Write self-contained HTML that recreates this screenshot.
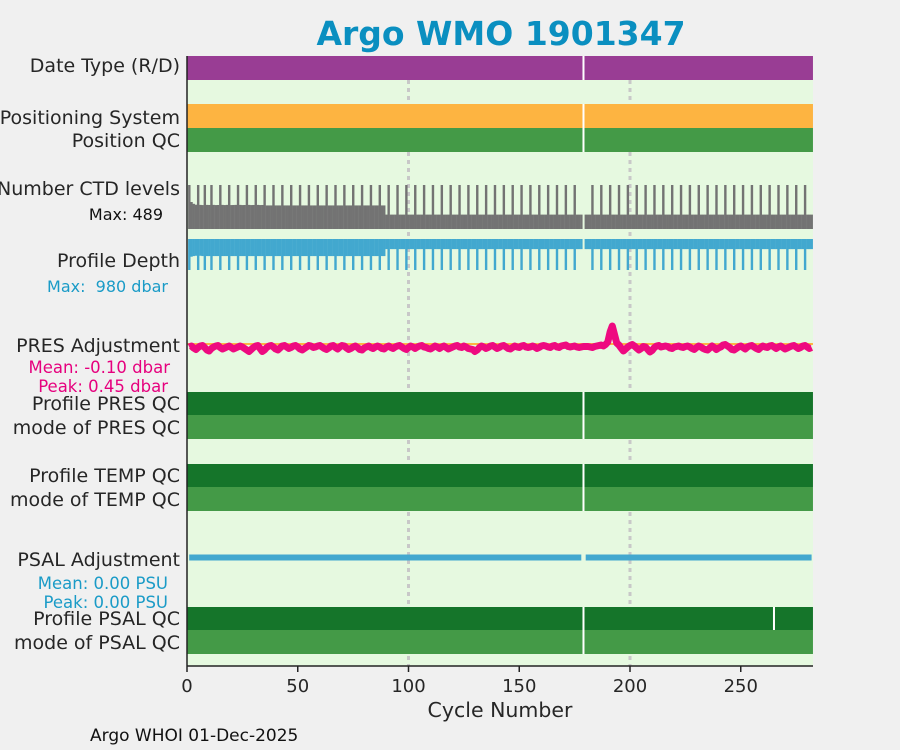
<!DOCTYPE html>
<html><head><meta charset="utf-8">
<style>
html,body{margin:0;padding:0;background:#f0f0f0;}
svg{display:block;font-family:"DejaVu Sans","Liberation Sans",sans-serif;}
</style></head>
<body>
<svg id="chart" width="900" height="750" viewBox="0 0 900 750">
<rect x="0" y="0" width="900" height="750" fill="#f0f0f0"/>
<text x="501" y="45" text-anchor="middle" font-size="33" font-weight="bold" fill="#0a8fc0">Argo WMO 1901347</text>
<rect x="187" y="56" width="626" height="610" fill="#e6f9e0"/>
<g id="marks"></g>
<line x1="187" y1="56" x2="187" y2="666" stroke="#222" stroke-width="1.5"/>
<line x1="187" y1="666" x2="813" y2="666" stroke="#222" stroke-width="1.5"/>
<g font-size="19" fill="#262626" text-anchor="end">
<text x="180" y="72">Date Type (R/D)</text>
<text x="180" y="124">Positioning System</text>
<text x="180" y="147">Position QC</text>
<text x="180" y="195">Number CTD levels</text>
<text x="180" y="267">Profile Depth</text>
<text x="180" y="352">PRES Adjustment</text>
<text x="180" y="410">Profile PRES QC</text>
<text x="180" y="434">mode of PRES QC</text>
<text x="180" y="482">Profile TEMP QC</text>
<text x="180" y="506">mode of TEMP QC</text>
<text x="180" y="566">PSAL Adjustment</text>
<text x="180" y="625">Profile PSAL QC</text>
<text x="180" y="649">mode of PSAL QC</text>
</g>
<g text-anchor="end">
<text x="163" y="220" font-size="16" fill="#111">Max: 489</text>
<text x="168" y="292" font-size="16" fill="#1a9bc7">Max:&#160; 980 dbar</text>
<text x="170" y="373" font-size="16.5" fill="#e6007e">Mean: -0.10 dbar</text>
<text x="168" y="392" font-size="16.5" fill="#e6007e">Peak: 0.45 dbar</text>
<text x="168" y="589" font-size="16.5" fill="#1a9bc7">Mean: 0.00 PSU</text>
<text x="168" y="608" font-size="16.5" fill="#1a9bc7">Peak: 0.00 PSU</text>
</g>
<g id="xaxis" font-size="18" fill="#262626" text-anchor="middle"></g>
<text x="500" y="717" text-anchor="middle" font-size="20.5" fill="#262626">Cycle Number</text>
<text x="90" y="741" font-size="17" fill="#111">Argo WHOI 01-Dec-2025</text>
</svg>
<script>
const xTicks = [0, 50, 100, 150, 200, 250];
const gapCycles = [179];
const psalQcGapCycles = [179, 265];
const refCycles = [100, 200];
const ctdLevels = [
489,300,280,270,489,268,266,489,268,267,489,268,266,267,489,268,266,268,489,266,
267,268,489,268,266,267,489,268,266,267,489,268,266,267,489,262,262,262,489,262,
262,262,489,262,262,262,489,262,262,262,489,262,262,262,489,262,262,262,489,262,
262,262,489,262,262,262,489,262,262,262,489,262,262,262,489,262,262,262,489,262,
262,262,489,262,262,262,489,262,262,160,489,160,160,160,489,160,160,160,489,160,
160,160,489,160,160,160,489,160,160,160,489,160,160,160,489,160,160,160,489,160,
160,160,489,160,160,160,489,160,160,160,489,160,160,160,489,160,160,160,489,160,
160,160,489,160,160,160,489,160,160,160,489,160,160,160,489,160,160,160,489,160,
160,160,489,160,160,160,489,160,160,160,489,160,160,160,489,160,160,160,489,160,
160,160,489,160,160,160,489,160,160,160,489,160,160,160,489,160,160,160,489,160,
160,160,489,160,160,160,489,160,160,160,489,160,160,160,489,160,160,160,489,160,
160,160,489,160,160,160,489,160,160,160,489,160,160,160,489,160,160,160,489,160,
160,160,489,160,160,160,489,160,160,160,489,160,160,160,489,160,160,160,489,160,
160,160,489,160,160,160,489,160,160,160,489,160,160,160,489,160,160,160,489,160,
160,160];
const profileDepth = [
980,560,540,530,980,530,540,980,540,540,980,540,540,540,980,540,540,540,980,540,
540,540,980,540,540,540,980,540,540,540,980,540,540,540,980,540,540,540,980,540,
540,540,980,540,540,540,980,540,540,540,980,540,540,540,980,540,540,540,980,540,
540,540,980,540,540,540,980,540,540,540,980,540,540,540,980,540,540,540,980,540,
540,540,980,540,540,540,980,540,540,320,980,320,320,320,980,320,320,320,980,320,
320,320,980,320,320,320,980,320,320,320,980,320,320,320,980,320,320,320,980,320,
320,320,980,320,320,320,980,320,320,320,980,320,320,320,980,320,320,320,980,320,
320,320,980,320,320,320,980,320,320,320,980,320,320,320,980,320,320,320,980,320,
320,320,980,320,320,320,980,320,320,320,980,320,320,320,980,320,320,320,980,320,
320,320,980,320,320,320,980,320,320,320,980,320,320,320,980,320,320,320,980,320,
320,320,980,320,320,320,980,320,320,320,980,320,320,320,980,320,320,320,980,320,
320,320,980,320,320,320,980,320,320,320,980,320,320,320,980,320,320,320,980,320,
320,320,980,320,320,320,980,320,320,320,980,320,320,320,980,320,320,320,980,320,
320,320,980,320,320,320,980,320,320,320,980,320,320,320,980,320,320,320,980,320,
320,320];
const presAdjust = [
-0.10,-0.08,-0.12,-0.15,-0.11,-0.08,-0.07,-0.11,-0.16,-0.18,-0.13,-0.10,-0.08,-0.07,-0.11,-0.14,-0.12,-0.10,-0.08,-0.11,
-0.14,-0.12,-0.10,-0.08,-0.10,-0.13,-0.16,-0.19,-0.15,-0.11,-0.08,-0.07,-0.13,-0.19,-0.16,-0.11,-0.08,-0.07,-0.10,-0.14,
-0.16,-0.12,-0.08,-0.07,-0.10,-0.13,-0.11,-0.08,-0.07,-0.10,-0.14,-0.16,-0.13,-0.10,-0.07,-0.08,-0.11,-0.10,-0.08,-0.07,
-0.10,-0.13,-0.15,-0.12,-0.08,-0.07,-0.11,-0.14,-0.10,-0.07,-0.08,-0.12,-0.15,-0.13,-0.10,-0.08,-0.11,-0.15,-0.16,-0.12,
-0.10,-0.08,-0.11,-0.13,-0.10,-0.08,-0.10,-0.13,-0.14,-0.10,-0.08,-0.11,-0.13,-0.10,-0.08,-0.07,-0.10,-0.13,-0.15,-0.11,
-0.08,-0.10,-0.13,-0.10,-0.08,-0.07,-0.10,-0.11,-0.13,-0.14,-0.11,-0.08,-0.10,-0.13,-0.10,-0.08,-0.11,-0.14,-0.12,-0.10,
-0.08,-0.07,-0.10,-0.11,-0.08,-0.10,-0.13,-0.14,-0.15,-0.19,-0.16,-0.11,-0.08,-0.10,-0.13,-0.11,-0.08,-0.07,-0.10,-0.13,
-0.11,-0.08,-0.07,-0.10,-0.13,-0.14,-0.11,-0.08,-0.10,-0.11,-0.08,-0.07,-0.10,-0.11,-0.10,-0.08,-0.10,-0.13,-0.11,-0.08,
-0.07,-0.08,-0.10,-0.11,-0.08,-0.07,-0.10,-0.11,-0.08,-0.07,-0.06,-0.09,-0.10,-0.09,-0.08,-0.10,-0.11,-0.10,-0.09,-0.09,
-0.09,-0.10,-0.11,-0.09,-0.08,-0.07,-0.06,-0.08,-0.05,0.00,0.20,0.32,0.15,-0.02,-0.06,-0.12,-0.18,-0.14,-0.10,-0.07,
-0.05,-0.08,-0.12,-0.16,-0.13,-0.09,-0.10,-0.15,-0.20,-0.17,-0.11,-0.08,-0.07,-0.10,-0.09,-0.08,-0.09,-0.12,-0.13,-0.10,
-0.09,-0.08,-0.10,-0.11,-0.09,-0.08,-0.10,-0.13,-0.15,-0.11,-0.08,-0.10,-0.13,-0.15,-0.16,-0.12,-0.08,-0.11,-0.15,-0.12,
-0.10,-0.06,-0.05,-0.08,-0.11,-0.15,-0.16,-0.13,-0.10,-0.08,-0.11,-0.14,-0.10,-0.08,-0.07,-0.10,-0.13,-0.15,-0.11,-0.08,
-0.10,-0.11,-0.08,-0.07,-0.10,-0.13,-0.10,-0.08,-0.11,-0.14,-0.12,-0.10,-0.08,-0.07,-0.10,-0.13,-0.11,-0.08,-0.07,-0.10,
-0.13,-0.11];
const psalAdjust = [
0,0,0,0,0,0,0,0,0,0,0,0,0,0,0,0,0,0,0,0,0,0,0,0,0,0,0,0,0,0,0,0,0,0,0,0,0,0,0,0,
0,0,0,0,0,0,0,0,0,0,0,0,0,0,0,0,0,0,0,0,0,0,0,0,0,0,0,0,0,0,0,0,0,0,0,0,0,0,0,0,
0,0,0,0,0,0,0,0,0,0,0,0,0,0,0,0,0,0,0,0,0,0,0,0,0,0,0,0,0,0,0,0,0,0,0,0,0,0,0,0,
0,0,0,0,0,0,0,0,0,0,0,0,0,0,0,0,0,0,0,0,0,0,0,0,0,0,0,0,0,0,0,0,0,0,0,0,0,0,0,0,
0,0,0,0,0,0,0,0,0,0,0,0,0,0,0,0,0,0,0,0,0,0,0,0,0,0,0,0,0,0,0,0,0,0,0,0,0,0,0,0,
0,0,0,0,0,0,0,0,0,0,0,0,0,0,0,0,0,0,0,0,0,0,0,0,0,0,0,0,0,0,0,0,0,0,0,0,0,0,0,0,
0,0,0,0,0,0,0,0,0,0,0,0,0,0,0,0,0,0,0,0,0,0,0,0,0,0,0,0,0,0,0,0,0,0,0,0,0,0,0,0,
0,0];

const NS = "http://www.w3.org/2000/svg";
const X0 = 187, PXC = 2.215, XMAX = 282.6;
function xs(c){ return X0 + c * PXC; }
const marks = document.getElementById('marks');
function mk(tag, attrs, parent){
  const e = document.createElementNS(NS, tag);
  for (const k in attrs) e.setAttribute(k, attrs[k]);
  (parent || marks).appendChild(e);
  return e;
}
refCycles.forEach(c => {
  const l = mk('line', {x1: xs(c), y1: 56, x2: xs(c), y2: 666, stroke: '#c8c8c8', 'stroke-width': 3, 'stroke-dasharray': '4 4'});
  
  
});
function band(y, h, color, name, gaps){
  const r = mk('rect', {x: xs(0), y: y, width: xs(XMAX) - xs(0), height: h, fill: color});
  
  
  gaps.forEach(g => {
    const l = mk('rect', {x: xs(g) - 1, y: y, width: 2, height: h, fill: '#ffffff'});
    
    
  });
}
band(56, 24, '#993d94', 'date-type-band', gapCycles);
band(104, 24, '#fdb441', 'positioning-system-band', gapCycles);
band(128, 24, '#449a47', 'position-qc-band', gapCycles);
band(392, 23, '#15752a', 'profile-pres-qc-band', gapCycles);
band(415, 24, '#449a47', 'mode-pres-qc-band', gapCycles);
band(464, 23, '#15752a', 'profile-temp-qc-band', gapCycles);
band(487, 24, '#449a47', 'mode-temp-qc-band', gapCycles);
band(607, 23, '#15752a', 'profile-psal-qc-band', psalQcGapCycles);
band(630, 24, '#449a47', 'mode-psal-qc-band', gapCycles);

function yCtd(v){ return 229 - v / 489 * 44; }
ctdLevels.forEach((v, i) => {
  const c = i + 1;
  if (gapCycles.includes(c)) return;
  const r = mk('rect', {x: xs(c) - PXC/2, y: yCtd(v), width: PXC + 0.2, height: 229 - yCtd(v), fill: '#737373'});
  
  
});
function yDep(v){ return 239 + v / 980 * 31; }
profileDepth.forEach((v, i) => {
  const c = i + 1;
  if (gapCycles.includes(c)) return;
  const r = mk('rect', {x: xs(c) - PXC/2, y: 239, width: PXC + 0.2, height: yDep(v) - 239, fill: '#42a8cf'});
  
  
});
function yPres(v){ return 347 - (v + 0.1) * 50; }
const zl = mk('line', {x1: xs(0), y1: yPres(-0.1) - 3, x2: xs(XMAX), y2: yPres(-0.1) - 3, stroke: '#fdb441', 'stroke-width': 2});


let d = '';
presAdjust.forEach((v, i) => { d += (i ? 'L' : 'M') + xs(i + 1).toFixed(1) + ' ' + yPres(v).toFixed(1); });
const pl = mk('path', {d: d, fill: 'none', stroke: '#ee0a80', 'stroke-width': 7, 'stroke-linejoin': 'round'});


function yPsal(v){ return 557.5 - v * 1000; }
let d2 = '';
psalAdjust.forEach((v, i) => {
  const c = i + 1;
  if (gapCycles.includes(c)) { return; }
  const prevGap = gapCycles.includes(c - 1) || i === 0;
  d2 += (prevGap ? 'M' : 'L') + xs(c).toFixed(1) + ' ' + yPsal(v).toFixed(1);
});
const sl = mk('path', {d: d2, fill: 'none', stroke: '#42a8cf', 'stroke-width': 6});



const xg = document.getElementById('xaxis');
xTicks.forEach(t => {
  const tk = mk('line', {x1: xs(t), y1: 666, x2: xs(t), y2: 672, stroke: '#222', 'stroke-width': 1.5}, xg);
  
  
  const tx = mk('text', {x: xs(t), y: 692}, xg);
  tx.textContent = t;
  
  
});
</script>
</body></html>
